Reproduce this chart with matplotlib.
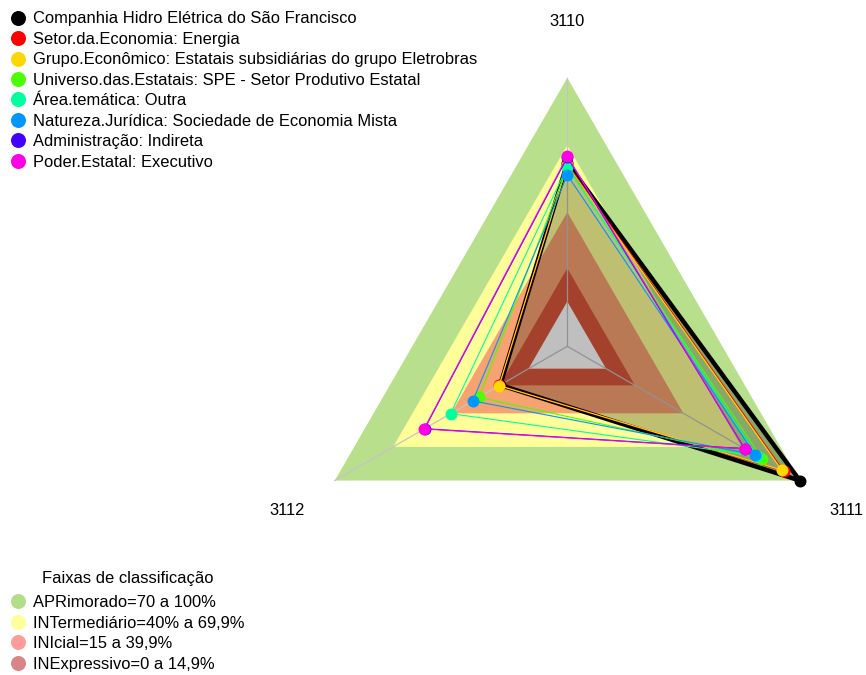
import numpy as np
import matplotlib
matplotlib.use("Agg")
import matplotlib.pyplot as plt
from matplotlib.lines import Line2D

plt.rcParams['font.family'] = ['Liberation Sans', 'DejaVu Sans']

# ---------------- data ----------------
axes_labels = ["3110", "3111", "3112"]
series_names = [
    "Companhia Hidro Elétrica do São Francisco",
    "Setor.da.Economia: Energia",
    "Grupo.Econômico: Estatais subsidiárias do grupo Eletrobras",
    "Universo.das.Estatais: SPE - Setor Produtivo Estatal",
    "Área.temática: Outra",
    "Natureza.Jurídica: Sociedade de Economia Mista",
    "Administração: Indireta",
    "Poder.Estatal: Executivo",
]
series_colors = ["#000000", "#ff0000", "#ffd700", "#4cff00", "#00ff9f",
                 "#0095ff", "#4400ff", "#ff00e6"]
# values for axes 3110, 3111, 3112 (percent)
v_companhia = [62.0, 100.0, 14.6]
v_setor     = [61.5, 91.8, 15.0]
v_grupo     = [61.0, 90.6, 15.2]
v_universo  = [60.0, 80.6, 25.6]
v_area      = [60.3, 78.0, 40.2]
v_natureza  = [56.6, 76.9, 28.8]
v_admin     = [64.5, 71.5, 53.6]
v_poder     = [65.0, 71.7, 53.9]
series_values = [v_companhia, v_setor, v_grupo, v_universo, v_area,
                 v_natureza, v_admin, v_poder]

band_names = ["APRimorado=70 a 100%", "INTermediário=40% a 69,9%",
              "INIcial=15 a 39,9%", "INExpressivo=0 a 14,9%"]
band_upper = [100.0, 69.9, 39.9, 14.9]
band_fill = ["#b8df8b", "#ffff99", "#f7a271", "#dc573c"]
band_legend_colors = ["#b3de88", "#ffff99", "#ff9b9b", "#da8585"]

vmin, vmax, nseg = 0.0, 100.0, 5

# ---------------- geometry helpers ----------------
angles = np.deg2rad([90.0, -30.0, 210.0])


def radius(v):
    v = np.asarray(v, dtype=float)
    return 1.0 / (nseg + 1) + (v - vmin) / (vmax - vmin) * nseg / (nseg + 1)


def to_xy(vals):
    r = radius(vals)
    x = r * np.cos(angles)
    y = r * np.sin(angles)
    return np.append(x, x[0]), np.append(y, y[0])


W, H = 866, 675
cx, cy, R = 567.3, 346.3, 268.5

fig = plt.figure(figsize=(W / 100, H / 100), dpi=100)
ax = fig.add_axes([0, 0, 1, 1])
ax.set_xlim(-cx / R, (W - cx) / R)
ax.set_ylim(-(H - cy) / R, cy / R)
ax.axis('off')

# bands
for up, col in zip(band_upper, band_fill):
    x, y = to_xy([up] * 3)
    ax.fill(x, y, color=col, lw=0, zorder=1)
# center hole (below minimum)
x, y = to_xy([vmin] * 3)
ax.fill(x, y, color="white", lw=0, zorder=1.5)

# axis spokes
for a in angles:
    ax.plot([0, np.cos(a)], [0, np.sin(a)], color="#c4c4c4", lw=0.9, zorder=2)

# first series fill
x, y = to_xy(series_values[0])
ax.fill(x, y, color="black", alpha=0.25, lw=0, zorder=3)

for i, (vals, col) in enumerate(zip(series_values, series_colors)):
    x, y = to_xy(vals)
    lw = 3.2 if i == 0 else 0.8
    ax.plot(x, y, color=col, lw=lw, zorder=4 + i * 0.1, solid_joinstyle='miter')
    ax.plot(x[:-1], y[:-1], 'o', color=col, ms=8.6, mew=0, zorder=4.05 + i * 0.1)

# axis labels
fs = 11.85
for a, lab in zip(angles, axes_labels):
    if lab == "3110":
        ax.text(0, 1.208, lab, ha='center', va='center', fontsize=fs)
    elif lab == "3111":
        ax.text(1.040, -0.610, lab, ha='center', va='center', fontsize=fs)
    else:
        ax.text(-1.042, -0.610, lab, ha='center', va='center', fontsize=fs)

# legends
h1 = [Line2D([], [], marker='o', ls='none', color=c, ms=10.8, mew=0) for c in series_colors]
leg1 = fig.legend(h1, series_names, loc='upper left', bbox_to_anchor=(10.7 / W, 1 - 11.5 / H),
                  frameon=False, fontsize=fs, labelspacing=0.33, handlelength=0.9,
                  handletextpad=0.46, borderpad=0, borderaxespad=0)

h2 = [Line2D([], [], marker='o', ls='none', color=c, ms=10.8, mew=0) for c in band_legend_colors]
leg2 = fig.legend(h2, band_names, loc='upper left', bbox_to_anchor=(10.7 / W, 1 - 570.5 / H),
                  frameon=False, fontsize=fs, labelspacing=0.33, handlelength=0.9,
                  handletextpad=0.46, borderpad=0, borderaxespad=0,
                  title="Faixas de classificação", title_fontsize=fs)
leg2._legend_box.sep = 7

fig.savefig("out.png", dpi=100)
